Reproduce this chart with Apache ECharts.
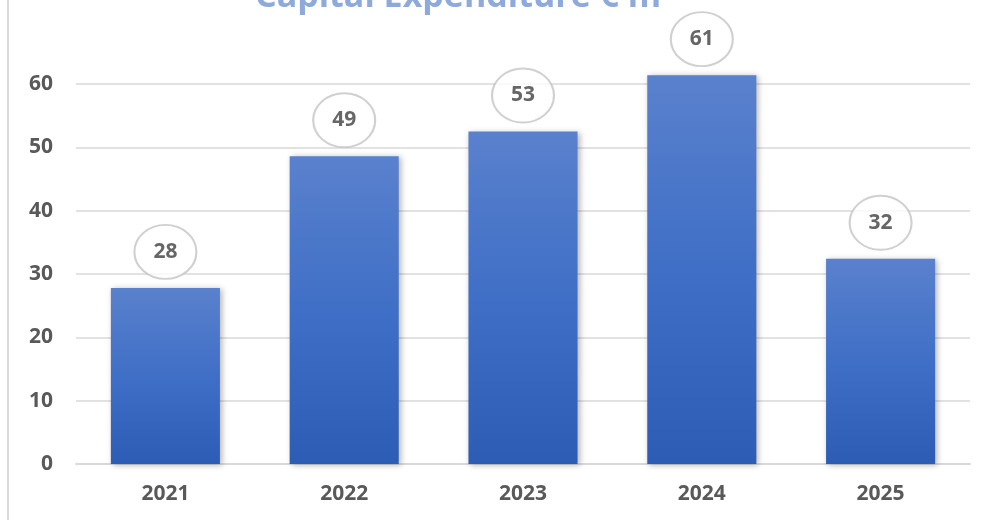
<!DOCTYPE html>
<html>
<head>
<meta charset="utf-8">
<script src="https://cdn.jsdelivr.net/npm/echarts@6/dist/echarts.min.js"></script>
<style>
html,body{margin:0;padding:0;background:#fff;}
#c{width:988px;height:521px;}
</style>
</head>
<body>
<div id="c"></div>
<script>
var titleText = 'Capital Expenditure € m';
var categories = ['2021', '2022', '2023', '2024', '2025'];
var values = [27.8, 48.6, 52.5, 61.4, 32.4];
var yTicks = [0, 10, 20, 30, 40, 50, 60];

var chart = echarts.init(document.getElementById('c'));
var font = '"Open Sans", "Liberation Sans", sans-serif';
chart.setOption({
  animation: false,
  backgroundColor: '#ffffff',
  graphic: [
    { type: 'line', shape: { x1: 8, y1: 0, x2: 8, y2: 520 }, style: { stroke: '#d9d9d9', lineWidth: 2 } },
    { type: 'text', left: 255, top: -20, style: { text: titleText, font: 'bold 34px ' + font, fill: '#8eaadb' }, z: 10 }
  ],
  grid: { left: 76, right: 18, top: 84, bottom: 57 },
  xAxis: {
    type: 'category',
    data: categories,
    axisTick: { show: false },
    axisLine: { lineStyle: { color: '#d9d9d9', width: 2 } },
    axisLabel: { color: '#595959', fontSize: 21, fontWeight: 'bold', fontFamily: font, margin: 20 }
  },
  yAxis: {
    type: 'value',
    min: yTicks[0],
    max: yTicks[yTicks.length - 1],
    interval: 10,
    axisLine: { show: false },
    axisTick: { show: false },
    splitLine: { lineStyle: { color: '#d9d9d9', width: 1.5 } },
    axisLabel: { color: '#595959', fontSize: 21, fontWeight: 'bold', fontFamily: font, margin: 23 }
  },
  series: [
    {
      type: 'bar',
      data: values,
      barWidth: '61%',
      clip: false,
      itemStyle: {
        color: new echarts.graphic.LinearGradient(0, 0, 0, 1, [
          { offset: 0, color: '#5a81cd' },
          { offset: 0.5, color: '#3f6fc6' },
          { offset: 1, color: '#2d5cb5' }
        ]),
        shadowBlur: 6,
        shadowColor: 'rgba(0,0,0,0.3)',
        shadowOffsetX: 2,
        shadowOffsetY: 1
      }
    },
    {
      type: 'scatter',
      data: values,
      clip: false,
      symbol: 'circle',
      symbolSize: [62, 54],
      symbolOffset: [0, -36],
      itemStyle: { color: '#ffffff', borderColor: '#c4c4c4', borderWidth: 2 },
      label: {
        show: true,
        position: 'inside',
        formatter: function (p) { return Math.round(p.value); },
        color: '#404040',
        fontSize: 21,
        fontWeight: 'bold',
        fontFamily: font
      },
      z: 5
    }
  ]
});
</script>
</body>
</html>
